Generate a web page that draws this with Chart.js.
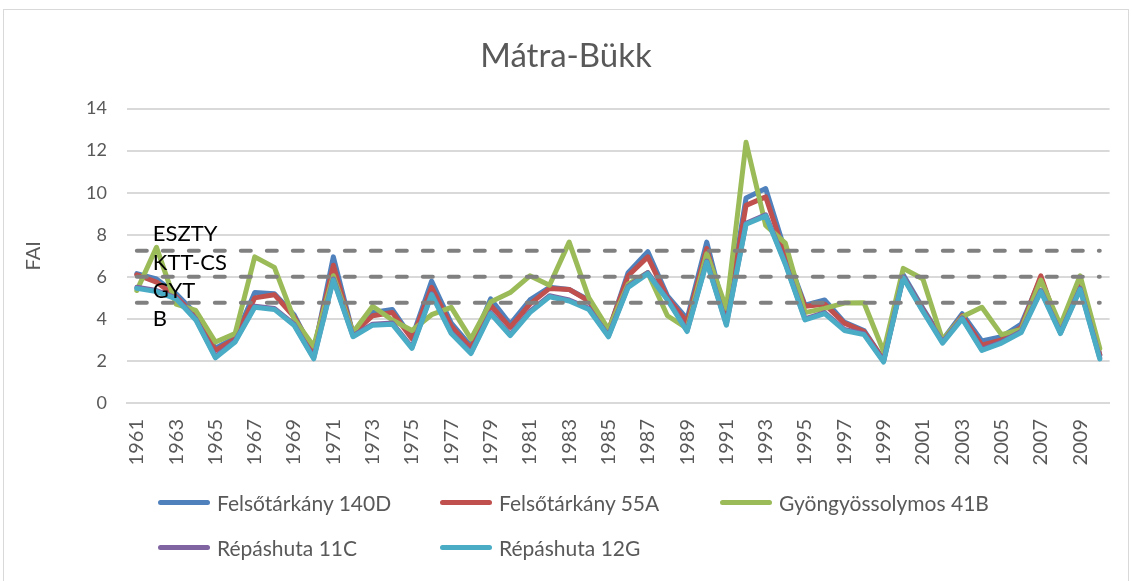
<!DOCTYPE html>
<html lang="hu">
<head>
<meta charset="utf-8">
<title>Mátra-Bükk</title>
<script src="https://cdn.jsdelivr.net/npm/chart.js@4/dist/chart.umd.min.js"></script>
<style>
    body { margin: 0; background: #fff; font-family: Lato, "Open Sans", sans-serif; }
    #wrap { position: relative; width: 1132px; height: 581px; overflow: hidden; }
    #frame { position: absolute; left: 3px; top: 9px; width: 1124px; height: 600px; border: 1px solid #d9d9d9; }
    #chart { position: absolute; left: 0; top: 0; }
    #legend { position: absolute; left: 158px; top: 488px; display: grid; grid-template-columns: 282px 280px 300px; row-gap: 17px; }
    .legend-item { display: flex; align-items: center; height: 28px; font-size: 21px; color: #595959; white-space: nowrap; }
    .legend-swatch { display: inline-block; width: 52px; height: 5px; border-radius: 3px; margin-right: 7px; }
</style>
</head>
<body>
<div id="wrap">
    <div id="frame"></div>
    <canvas id="chart" width="1132" height="581"></canvas>
    <div id="legend"></div>
</div>
<script>
// Mátra-Bükk - FAI 1961-2010

const years = [
    '1961', '1962', '1963', '1964', '1965', '1966', '1967', '1968', '1969', '1970',
    '1971', '1972', '1973', '1974', '1975', '1976', '1977', '1978', '1979', '1980',
    '1981', '1982', '1983', '1984', '1985', '1986', '1987', '1988', '1989', '1990',
    '1991', '1992', '1993', '1994', '1995', '1996', '1997', '1998', '1999', '2000',
    '2001', '2002', '2003', '2004', '2005', '2006', '2007', '2008', '2009', '2010'
];

// series values
const felsotarkany140D = [
    6.15, 5.9, 5.2, 4.25, 2.6, 3.1, 5.25, 5.2, 4.2, 2.4,
    6.95, 3.3, 4.3, 4.45, 3.1, 5.8, 3.8, 2.7, 4.95, 3.75,
    4.9, 5.5, 5.4, 4.9, 3.4, 6.2, 7.2, 5.1, 4.0, 7.65,
    4.0, 9.75, 10.2, 7.2, 4.65, 4.9, 3.85, 3.45, 2.05, 6.1,
    4.5, 3.0, 4.25, 2.95, 3.15, 3.75, 5.95, 3.35, 5.6, 2.3
];
const felsotarkany55A = [
    6.1, 5.75, 5.05, 4.1, 2.5, 3.05, 5.0, 5.15, 4.1, 2.5,
    6.55, 3.3, 4.15, 4.3, 3.05, 5.5, 3.65, 2.6, 4.65, 3.6,
    4.7, 5.45, 5.4, 4.85, 3.45, 6.05, 6.95, 5.0, 3.85, 7.35,
    3.9, 9.4, 9.8, 7.0, 4.6, 4.7, 3.8, 3.4, 2.05, 6.0,
    4.45, 2.95, 4.15, 2.75, 3.0, 3.6, 6.05, 3.35, 5.55, 2.3
];
const gyongyossolymos41B = [
    5.35, 7.4, 4.7, 4.4, 2.9, 3.3, 6.95, 6.45, 4.0, 2.7,
    6.05, 3.35, 4.6, 3.95, 3.45, 4.2, 4.55, 3.05, 4.8, 5.25,
    6.05, 5.6, 7.65, 5.0, 3.5, 5.65, 6.2, 4.15, 3.55, 7.1,
    4.5, 12.4, 8.45, 7.6, 4.3, 4.5, 4.75, 4.77, 2.45, 6.4,
    5.9, 3.0, 4.1, 4.55, 3.25, 3.5, 5.85, 3.7, 6.05, 2.6
];
const repashuta11C = [
    5.5, 5.35, 5.0, 4.0, 2.2, 2.95, 4.6, 4.5, 3.75, 2.15,
    5.9, 3.2, 3.75, 3.8, 2.65, 5.2, 3.35, 2.4, 4.3, 3.25,
    4.35, 5.1, 4.9, 4.5, 3.2, 5.55, 6.2, 4.95, 3.45, 6.75,
    3.75, 8.55, 8.95, 6.65, 4.0, 4.3, 3.5, 3.3, 2.0, 6.0,
    4.4, 2.9, 4.05, 2.55, 2.9, 3.4, 5.35, 3.35, 5.45, 2.15
];
const repashuta12G = [
    5.45, 5.3, 4.95, 3.95, 2.15, 2.9, 4.55, 4.45, 3.7, 2.1,
    5.85, 3.15, 3.7, 3.75, 2.6, 5.15, 3.3, 2.35, 4.25, 3.2,
    4.3, 5.05, 4.85, 4.45, 3.15, 5.5, 6.15, 4.9, 3.4, 6.7,
    3.7, 8.5, 8.9, 6.6, 3.95, 4.25, 3.45, 3.25, 1.95, 5.95,
    4.35, 2.85, 4.0, 2.5, 2.85, 3.35, 5.3, 3.3, 5.4, 2.1
];

const seriesNames = ['Felsőtárkány 140D', 'Felsőtárkány 55A', 'Gyöngyössolymos 41B', 'Répáshuta 11C', 'Répáshuta 12G'];
const seriesData = [felsotarkany140D, felsotarkany55A, gyongyossolymos41B, repashuta11C, repashuta12G];
const seriesColors = ['#4f81bd', '#c0504d', '#9bbb59', '#8064a2', '#4bacc6'];

// threshold lines and their labels
const thresholdValues = [7.24, 6.0, 4.77];
const refLabels = ['ESZTY', 'KTT-CS', 'GYT', 'B'];
const refLabelValues = [8.05, 6.65, 5.35, 4.0];

const yTicks = [0, 2, 4, 6, 8, 10, 12, 14];

// Build datasets (Excel draws the last series on top, Chart.js wants a lower order for that)
const datasets = seriesNames.map((name, i) => ({
    label: name,
    data: seriesData[i],
    borderColor: seriesColors[i],
    backgroundColor: seriesColors[i],
    borderWidth: 5,
    borderJoinStyle: 'round',
    borderCapStyle: 'round',
    pointRadius: 0,
    tension: 0,
    order: 10 - i
}));

thresholdValues.forEach(v => {
    datasets.push({
        label: '',
        data: years.map(() => v),
        borderColor: '#808080',
        borderWidth: 4,
        borderDash: [10, 16],
        borderCapStyle: 'round',
        pointRadius: 0,
        order: 0
    });
});

// text labels next to the threshold lines
const refLabelPlugin = {
    id: 'refLabels',
    afterDatasetsDraw(chart) {
        const ctx = chart.ctx;
        const x = chart.scales.x;
        const y = chart.scales.y;
        ctx.save();
        ctx.font = '22px Lato';
        ctx.fillStyle = '#000';
        ctx.textAlign = 'left';
        ctx.textBaseline = 'middle';
        refLabels.forEach((text, i) => {
            ctx.fillText(text, x.getPixelForValue(0) + 16, y.getPixelForValue(refLabelValues[i]));
        });
        ctx.restore();
    }
};

const ctx = document.getElementById('chart').getContext('2d');

new Chart(ctx, {
    type: 'line',
    data: { labels: years, datasets: datasets },
    plugins: [refLabelPlugin],
    options: {
        responsive: false,
        animation: false,
        layout: { padding: { left: 22, right: 22, top: 0, bottom: 100 } },
        scales: {
            x: {
                offset: true,
                grid: { display: false },
                border: { color: '#d9d9d9', width: 2 },
                ticks: {
                    autoSkip: false,
                    minRotation: 90,
                    maxRotation: 90,
                    padding: 8,
                    color: '#595959',
                    font: { family: 'Lato', size: 20 },
                    callback: function(value, index) {
                        return index % 2 === 0 ? years[index] : '';
                    }
                },
                afterFit: function(scale) {
                    scale.height = 78;
                }
            },
            y: {
                min: yTicks[0],
                max: yTicks[yTicks.length - 1],
                grid: { color: '#d9d9d9', lineWidth: 2, drawTicks: false },
                border: { display: false },
                ticks: {
                    stepSize: 2,
                    padding: 20,
                    color: '#595959',
                    font: { family: 'Lato', size: 18 }
                },
                title: {
                    display: true,
                    text: 'FAI',
                    color: '#595959',
                    font: { family: 'Lato', size: 20 },
                    padding: { top: 0, bottom: 0 }
                },
                afterFit: function(scale) {
                    scale.width = 105;
                }
            }
        },
        plugins: {
            legend: { display: false },
            tooltip: { enabled: false },
            title: {
                display: true,
                text: 'Mátra-Bükk',
                color: '#595959',
                font: { family: 'Lato', size: 33, weight: 'normal' },
                padding: { top: 37, bottom: 32 }
            }
        }
    }
});

// HTML legend in Excel-like columns
const legendEl = document.getElementById('legend');
seriesNames.forEach((name, i) => {
    const item = document.createElement('div');
    item.className = 'legend-item';
    item.innerHTML = `<span class="legend-swatch" style="background:${seriesColors[i]}"></span>${name}`;
    legendEl.appendChild(item);
});
</script>
</body>
</html>
